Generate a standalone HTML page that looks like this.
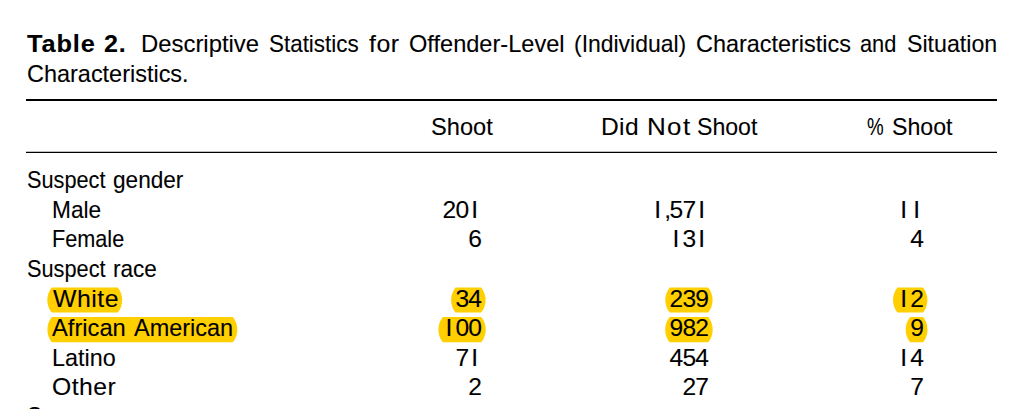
<!DOCTYPE html>
<html><head><meta charset="utf-8"><title>Table 2</title>
<style>
html,body{margin:0;padding:0;background:#fff;}
body{width:1024px;height:409px;overflow:hidden;position:relative;font-family:"Liberation Sans",sans-serif;font-size:24px;line-height:30px;color:#000;}
.t{position:absolute;white-space:pre;transform-origin:0 0;-webkit-text-stroke:0.1px #000;}
.n{-webkit-text-stroke:0.1px #000;}
.b{font-weight:bold;}
.n{position:absolute;white-space:pre;height:30px;font-size:24.6px;}
.n i{font-style:normal;display:inline-block;text-align:center;}
.n i.d{width:12.8px;}
.n i.c{width:5.4px;}
.hl{position:absolute;left:0;top:0;}
.rule{position:absolute;background:#000;}
</style></head><body>

<svg class="hl" width="1024" height="409" viewBox="0 0 1024 409"><path fill="#ffcf00" d="M51.7 287.6H117.8A20 20 0 0 1 117.8 312.6H51.7A20 20 0 0 1 51.7 287.6Z M51.9 317.0H232.8A20 20 0 0 1 232.8 342.3H51.9A20 20 0 0 1 51.9 317.0Z M455.5 287.6H481.2A20 20 0 0 1 481.2 312.6H455.5A20 20 0 0 1 455.5 287.6Z M442.9 317.0H481.2A20 20 0 0 1 481.2 342.3H442.9A20 20 0 0 1 442.9 317.0Z M669.7 287.6H708.2A20 20 0 0 1 708.2 312.6H669.7A20 20 0 0 1 669.7 287.6Z M669.7 317.0H708.2A20 20 0 0 1 708.2 342.3H669.7A20 20 0 0 1 669.7 317.0Z M897.4 287.6H923.0A20 20 0 0 1 923.0 312.6H897.4A20 20 0 0 1 897.4 287.6Z M910.2 317.0H923.0A20 20 0 0 1 923.0 342.3H910.2A20 20 0 0 1 910.2 317.0Z"/></svg>
<div class="rule" style="left:26px;top:99px;width:971px;height:2px"></div>
<div class="rule" style="left:26px;top:152px;width:971px;height:1px;box-shadow:0 -1px 0 rgba(0,0,0,0.25)"></div>
<div class="t b" style="left:27.2px;top:29.2px;transform:scaleX(1.0558);letter-spacing:0.838px">Table</div>
<div class="t b" style="left:103.86px;top:29.2px;transform:scaleX(1.0441);letter-spacing:0.75px">2.</div>
<div class="t" style="left:141.21px;top:29.2px;transform:scaleX(0.9948)">Descriptive</div>
<div class="t" style="left:268.87px;top:29.2px;transform:scaleX(0.934)">Statistics</div>
<div class="t" style="left:368.5px;top:29.2px;transform:scaleX(1.0375);letter-spacing:0.525px">for</div>
<div class="t" style="left:408.52px;top:29.2px;transform:scaleX(0.9827)">Offender-Level</div>
<div class="t" style="left:574.24px;top:29.2px;transform:scaleX(0.9557)">(Individual)</div>
<div class="t" style="left:696.12px;top:29.2px;transform:scaleX(0.9758)">Characteristics</div>
<div class="t" style="left:860.09px;top:29.2px;transform:scaleX(0.9079)">and</div>
<div class="t" style="left:906.63px;top:29.2px;transform:scaleX(0.9659)">Situation</div>
<div class="t" style="left:26.52px;top:58.8px;transform:scaleX(0.9772)">Characteristics.</div>
<div class="t" style="left:431.02px;top:112.0px;transform:scaleX(0.9839)">Shoot</div>
<div class="t" style="left:601.35px;top:112.0px;transform:scaleX(1.0227);letter-spacing:0.375px">Did</div>
<div class="t" style="left:647.03px;top:112.0px;transform:scaleX(1.0857)">N</div>
<div class="t" style="left:666.62px;top:112.0px;transform:scaleX(1.0763);letter-spacing:1.45px">ot</div>
<div class="t" style="left:697.14px;top:112.0px;transform:scaleX(0.9629)">Shoot</div>
<div class="t" style="left:866.92px;top:112.0px;transform:scaleX(0.78)">%</div>
<div class="t" style="left:892.04px;top:112.0px;transform:scaleX(0.9645)">Shoot</div>
<div class="t" style="left:26.8px;top:165.3px;transform:scaleX(0.9047)">Suspect</div>
<div class="t" style="left:112.86px;top:165.3px;transform:scaleX(0.9419)">gender</div>
<div class="t" style="left:52.01px;top:195.0px;transform:scaleX(0.9449)">Male</div>
<div class="t" style="left:51.69px;top:224.3px;transform:scaleX(0.9026)">Female</div>
<div class="t" style="left:26.79px;top:254.1px;transform:scaleX(0.9058)">Suspect</div>
<div class="t" style="left:113.32px;top:254.1px;transform:scaleX(0.9409)">race</div>
<div class="t" style="left:52.7px;top:283.6px;transform:scaleX(1.0342);letter-spacing:0.512px">White</div>
<div class="t" style="left:52.4px;top:312.8px;transform:scaleX(0.9877)">African</div>
<div class="t" style="left:133.7px;top:312.8px;transform:scaleX(0.977)">American</div>
<div class="t" style="left:51.95px;top:343.4px;transform:scaleX(0.973)">Latino</div>
<div class="t" style="left:52.37px;top:372.4px;transform:scaleX(1.0305);letter-spacing:0.45px">Other</div>
<div class="n" style="left:442.6px;top:195.0px"><i class="d">2</i><i class="d">0</i><i class="d">I</i></div>
<div class="n" style="left:651.4px;top:195.0px"><i class="d">I</i><i class="c">,</i><i class="d">5</i><i class="d">7</i><i class="d">I</i></div>
<div class="n" style="left:897.4px;top:195.0px"><i class="d">I</i><i class="d">I</i></div>
<div class="n" style="left:468.2px;top:224.3px"><i class="d">6</i></div>
<div class="n" style="left:669.6px;top:224.3px"><i class="d">I</i><i class="d">3</i><i class="d">I</i></div>
<div class="n" style="left:910.2px;top:224.3px"><i class="d">4</i></div>
<div class="n" style="left:455.4px;top:283.6px"><i class="d">3</i><i class="d">4</i></div>
<div class="n" style="left:669.6px;top:283.6px"><i class="d">2</i><i class="d">3</i><i class="d">9</i></div>
<div class="n" style="left:897.4px;top:283.6px"><i class="d">I</i><i class="d">2</i></div>
<div class="n" style="left:442.6px;top:312.8px"><i class="d">I</i><i class="d">0</i><i class="d">0</i></div>
<div class="n" style="left:669.6px;top:312.8px"><i class="d">9</i><i class="d">8</i><i class="d">2</i></div>
<div class="n" style="left:910.2px;top:312.8px"><i class="d">9</i></div>
<div class="n" style="left:455.4px;top:343.4px"><i class="d">7</i><i class="d">I</i></div>
<div class="n" style="left:669.6px;top:343.4px"><i class="d">4</i><i class="d">5</i><i class="d">4</i></div>
<div class="n" style="left:897.4px;top:343.4px"><i class="d">I</i><i class="d">4</i></div>
<div class="n" style="left:468.2px;top:372.4px"><i class="d">2</i></div>
<div class="n" style="left:682.4px;top:372.4px"><i class="d">2</i><i class="d">7</i></div>
<div class="n" style="left:910.2px;top:372.4px"><i class="d">7</i></div>
<div class="t" style="left:26.8px;top:401px;transform:scaleX(0.93)">S</div>
</body></html>
